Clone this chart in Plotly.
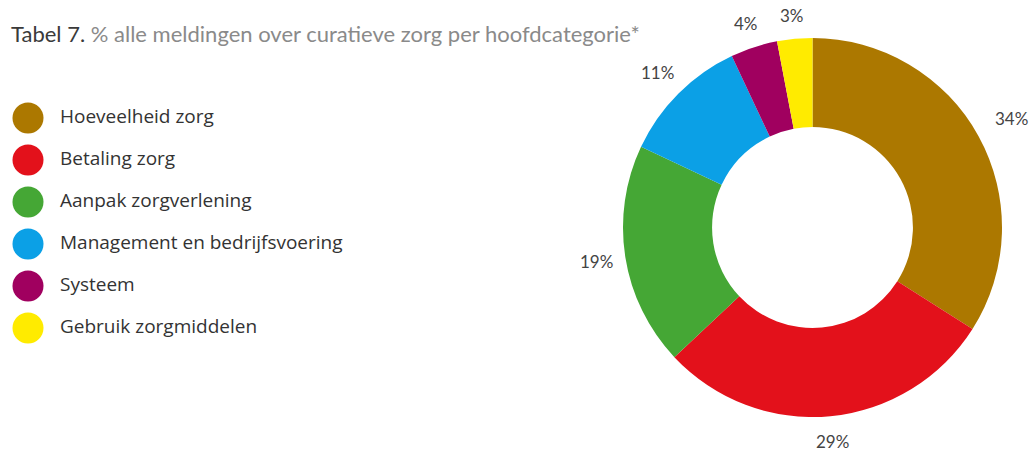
import math
import plotly.graph_objects as go

categories = ["Hoeveelheid zorg", "Betaling zorg", "Aanpak zorgverlening",
              "Management en bedrijfsvoering", "Systeem", "Gebruik zorgmiddelen"]
values = [34, 29, 19, 11, 4, 3]
colors = ["#AC7800", "#E3111B", "#45A735", "#0BA0E6", "#A0005F", "#FFEB00"]
labels_pct = [f"{v}%" for v in values]

FONT = "Lato"
W, H = 1029, 453
PIE_X = (622, 1003)
PIE_Y = (38, 417)

fig = go.Figure()

fig.add_trace(go.Pie(
    values=values,
    labels=categories,
    textinfo="none",
    marker=dict(colors=colors, line=dict(width=0)),
    hole=0.53,
    sort=False,
    direction="clockwise",
    rotation=0,
    showlegend=False,
    domain=dict(x=[PIE_X[0]/W, PIE_X[1]/W], y=[1-PIE_Y[1]/H, 1-PIE_Y[0]/H]),
    hoverinfo="label+percent",
))

# percentage labels outside the ring, placed at each slice's mid-angle
cx = (PIE_X[0] + PIE_X[1]) / 2
cy = (PIE_Y[0] + PIE_Y[1]) / 2
R = (PIE_Y[1] - PIE_Y[0]) / 2
total = sum(values)
cum = 0
for v, txt in zip(values, labels_pct):
    mid = (cum + v / 2) / total * 2 * math.pi
    cum += v
    s, c = math.sin(mid), math.cos(mid)
    hw, hh = 4.5 * len(txt), 9
    r = R + 14 + abs(s) * hw + abs(c) * hh + 8 * max(0.0, s)
    px, py = cx + r * s, cy - r * c
    fig.add_annotation(x=px / W, y=1 - py / H, xref="paper", yref="paper",
                       text=txt, showarrow=False, xanchor="center", yanchor="middle",
                       font=dict(family=FONT, size=17, color="#444444"))

# custom legend with big circles
fig.add_trace(go.Scatter(
    x=[0]*len(categories),
    y=list(range(len(categories))),
    mode="markers",
    marker=dict(size=31, color=colors, line=dict(width=0)),
    showlegend=False,
    hoverinfo="skip",
    cliponaxis=False,
))
fig.add_trace(go.Scatter(
    x=[32]*len(categories),
    y=list(range(len(categories))),
    mode="text",
    text=categories,
    textposition="middle right",
    textfont=dict(family="Open Sans", size=19, color="#333333"),
    showlegend=False,
    hoverinfo="skip",
    cliponaxis=False,
))

fig.update_xaxes(range=[-28, 1001], visible=False, domain=[0, 1], fixedrange=True)
fig.update_yaxes(range=[5 + (453-328)/42, -118/42], visible=False, domain=[0, 1], fixedrange=True)

fig.add_annotation(
    x=10/W, y=1-34/H, xref="paper", yref="paper", xanchor="left", yanchor="middle",
    showarrow=False, borderpad=0,
    text="<span style='color:#3a3a3a'>Tabel 7.</span> % alle meldingen over curatieve zorg per hoofdcategorie*",
    font=dict(family=FONT, size=22, color="#8a8a8a"),
)

fig.update_layout(
    width=W, height=H,
    margin=dict(l=0, r=0, t=0, b=0),
    paper_bgcolor="white", plot_bgcolor="rgba(0,0,0,0)",
)

fig.write_html("out.html", config={"displayModeBar": False},
               post_script="document.body.style.margin='0';")
